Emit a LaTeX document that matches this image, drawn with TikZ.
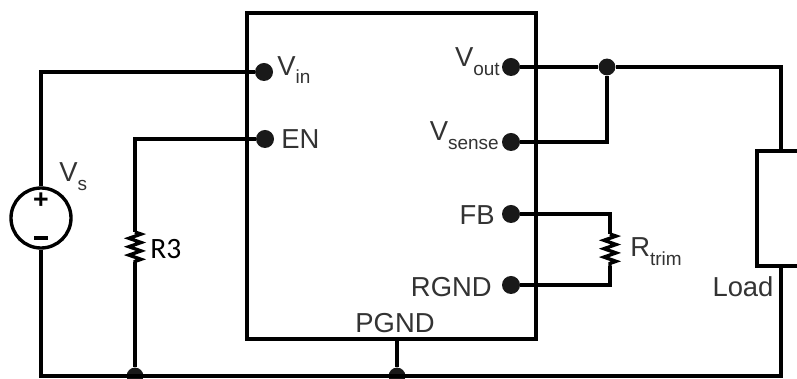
\documentclass[tikz,border=0pt]{standalone}
\usepackage{fontspec}
\setmainfont{Liberation Sans}
\newfontfamily\rfont{Carlito}
\usetikzlibrary{decorations.pathmorphing}
\newcommand{\lowtext}[1]{\raisebox{-.32em}{\fontsize{13.5}{14}\selectfont #1}}
\tikzset{
  wire/.style={line width=2.4pt},
  dot/.style={circle,fill=black!90,inner sep=0pt,minimum size=.45cm},
  junc/.style={circle,fill=black!90,inner sep=0pt,minimum size=.42cm},
  lab/.style={inner sep=0pt,text=black!80,font=\fontsize{19.5}{21}\selectfont},
  resist/.style={line width=2.4pt,decorate,decoration={zigzag,segment length=.21cm,amplitude=.15cm}},
}
\begin{document}
\begin{tikzpicture}[x=.025cm,y=-.025cm]
  \useasboundingbox (0,0) rectangle (797,379);
  \fill[white] (0,0) rectangle (797,379);

  % module body and load
  \node (ic) [draw,wire,inner sep=0pt,minimum width=7.225cm,minimum height=8.15cm] at (391.5,176) {};
  \node (load) [draw,wire,inner sep=0pt,minimum width=1.2cm,minimum height=2.875cm] at (781,208.5) {};

  % pins
  \node (vin) [dot] at (264,72) {};
  \node (en) [dot] at (265,139) {};
  \node (vout) [dot] at (511,67) {};
  \node (vsense) [dot] at (511,142) {};
  \node (fb) [dot] at (511,214) {};
  \node (rgnd) [dot] at (511,285) {};
  \node (vos) [junc] at (607,67) {};
  \node (gr3) [junc] at (135,376) {};
  \node (gic) [junc] at (397,376) {};

  % source
  \node (vs) [circle,draw,wire,inner sep=0pt,minimum size=1.5cm] at (41,218) {};
  \node (vsp) [inner sep=0pt,font=\bfseries\fontsize{19}{19}\selectfont] at (41,201) {+};
  \node (vsm) [fill,inner sep=0pt,minimum width=.36cm,minimum height=.09cm] at (41,238) {};

  \coordinate (vtop) at (41,72);
  \coordinate (vbot) at (41,376);
  \coordinate (r3a) at (135,232);
  \coordinate (r3b) at (135,262);
  \coordinate (ra) at (610,234);
  \coordinate (rb) at (610,266);
  \coordinate (gload) at (781,376);

  \draw[wire] (vs.north) -- (vtop) -- (vin);
  \draw[wire] (vs.south) -- (vbot) -- (gload) -- (load.south);
  \draw[wire] (en) -| (r3a);
  \draw[resist] (r3a) -- (r3b);
  \draw[wire] (r3b) -- (gr3);
  \draw[wire] (ic.south -| gic) -- (gic);
  \draw[wire] (vout) -- (vos) -| (load.north);
  \draw[wire] (vsense) -| (vos);
  \draw[wire] (fb) -| (ra);
  \draw[resist] (ra) -- (rb);
  \draw[wire] (rb) |- (rgnd);

  % labels
  \node (lvin) [lab,anchor=west] at (277,70) {V\lowtext{in}};
  \node (len) [lab,anchor=west] at (281,139) {EN};
  \node (lvout) [lab,anchor=east] at (500,62) {V\lowtext{out}};
  \node (lvsense) [lab,anchor=east] at (499,136) {V\lowtext{sense}};
  \node (lfb) [lab,anchor=east] at (495,215) {FB};
  \node (lrgnd) [lab,anchor=east] at (492,287) {RGND};
  \node (lpgnd) [lab] at (395,323) {PGND};
  \node (lrtrim) [lab,anchor=west] at (630,252) {R\lowtext{trim}};
  \node (lload) [lab] at (743,287) {Load};
  \node (lvs) [lab,anchor=west] at (59,177) {V\lowtext{s}};
  \node (lr3) [lab,anchor=west,text=black,font=\rfont\fontsize{21}{23}\selectfont] at (150,249) {R3};
\end{tikzpicture}
\end{document}
